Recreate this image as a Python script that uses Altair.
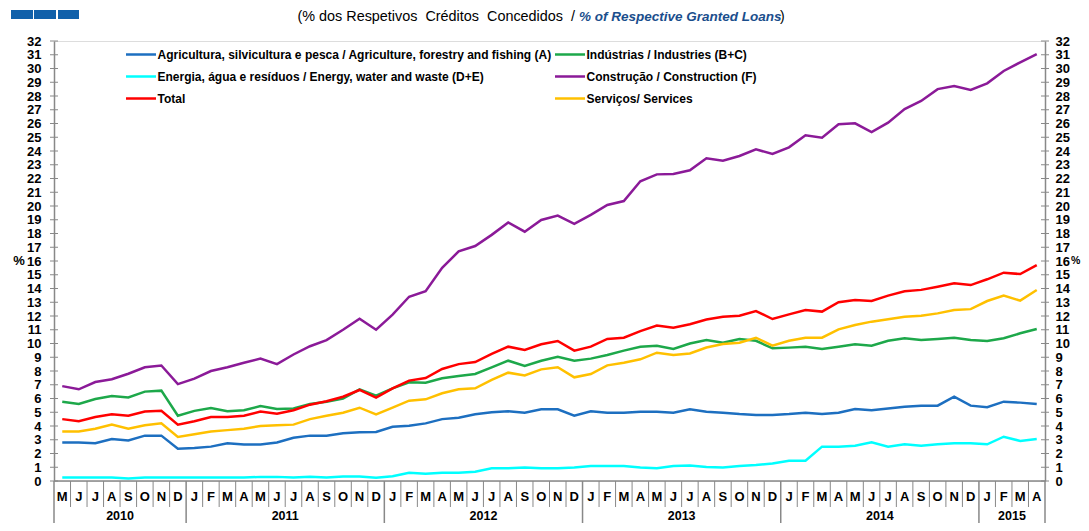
import altair as alt
import pandas as pd

# ---------------- data ----------------
months_2010 = ["M", "J", "J", "A", "S", "O", "N", "D"]
months_full = ["J", "F", "M", "A", "M", "J", "J", "A", "S", "O", "N", "D"]
months_2015 = ["J", "F", "M", "A"]
years = ["2010", "2011", "2012", "2013", "2014", "2015"]
year_months = [months_2010, months_full, months_full, months_full, months_full, months_2015]

names = [
    "Agricultura, silvicultura e pesca / Agriculture, forestry and fishing (A)",
    "Indústrias / Industries (B+C)",
    "Energia, água e resíduos / Energy, water and waste (D+E)",
    "Construção / Construction  (F)",
    "Total",
    "Serviços/ Services",
]
colors = ["#1D6FC0", "#1DA84A", "#00FFFF", "#8B1A98", "#FF0000", "#FFC000"]

agri = [2.8, 2.8, 2.75, 3.05, 2.95, 3.3, 3.3, 2.35, 2.4, 2.5, 2.75, 2.65, 2.65, 2.8, 3.15, 3.3, 3.3, 3.47, 3.54,
        3.56, 3.95, 4.02, 4.19, 4.5, 4.6, 4.85, 5.0, 5.07, 4.97, 5.21, 5.21, 4.75, 5.07, 4.97, 4.97, 5.04, 5.04, 4.97, 5.21, 5.04,
        4.97, 4.87, 4.8, 4.8, 4.87, 4.97, 4.87, 4.97, 5.24, 5.14, 5.28, 5.4, 5.48, 5.48, 6.13, 5.48, 5.36, 5.77, 5.7, 5.6]
industries = [5.77, 5.6, 5.96, 6.18, 6.08, 6.5, 6.57, 4.75, 5.1, 5.3, 5.07, 5.14, 5.45, 5.24, 5.28, 5.6, 5.77, 6.0, 6.67,
              6.2, 6.74, 7.18, 7.15, 7.47, 7.64, 7.78, 8.27, 8.75, 8.36, 8.75, 9.04, 8.75, 8.9, 9.16, 9.48, 9.77, 9.84, 9.6, 10.0, 10.25,
              10.06, 10.33, 10.2, 9.65, 9.7, 9.77, 9.6, 9.77, 9.94, 9.84, 10.2, 10.38, 10.25, 10.33, 10.42, 10.25, 10.18, 10.38, 10.74, 11.05]
energy = [0.25, 0.25, 0.25, 0.25, 0.18, 0.25, 0.25, 0.25, 0.25, 0.25, 0.25, 0.25, 0.3, 0.3, 0.25, 0.3, 0.25, 0.32, 0.32,
          0.24, 0.34, 0.6, 0.53, 0.6, 0.6, 0.68, 0.92, 0.92, 0.99, 0.92, 0.92, 0.99, 1.09, 1.09, 1.09, 0.99, 0.92, 1.09, 1.12, 1.02,
          0.99, 1.09, 1.16, 1.28, 1.48, 1.48, 2.5, 2.5, 2.57, 2.81, 2.5, 2.67, 2.57, 2.67, 2.74, 2.74, 2.67, 3.22, 2.91, 3.05]
construction = [6.9, 6.67, 7.2, 7.4, 7.8, 8.27, 8.4, 7.05, 7.45, 8.0, 8.27, 8.6, 8.9, 8.5, 9.2, 9.8, 10.25, 11.0, 11.8,
                11.0, 12.1, 13.4, 13.8, 15.5, 16.7, 17.09, 17.9, 18.8, 18.13, 18.98, 19.3, 18.7, 19.35, 20.07, 20.36, 21.8, 22.3, 22.33,
                22.6, 23.47, 23.3, 23.64, 24.12, 23.78, 24.27, 25.14, 24.97, 25.94, 26.01, 25.38, 26.06, 27.05, 27.64, 28.5, 28.73, 28.44, 28.92, 29.82, 30.45, 31.05]
total = [4.5, 4.35, 4.65, 4.85, 4.75, 5.05, 5.1, 4.1, 4.35, 4.65, 4.65, 4.75, 5.05, 4.9, 5.15, 5.55, 5.8, 6.13, 6.62,
         6.06, 6.74, 7.3, 7.49, 8.15, 8.5, 8.65, 9.24, 9.77, 9.53, 9.94, 10.18, 9.48, 9.77, 10.33, 10.42, 10.9, 11.3, 11.15, 11.4, 11.74,
         11.95, 12.02, 12.36, 11.78, 12.12, 12.44, 12.32, 13.0, 13.16, 13.1, 13.48, 13.8, 13.9, 14.13, 14.38, 14.25, 14.67, 15.15, 15.05, 15.7]
services = [3.6, 3.6, 3.8, 4.1, 3.8, 4.05, 4.2, 3.2, 3.4, 3.6, 3.7, 3.8, 4.0, 4.05, 4.1, 4.5, 4.75, 4.97, 5.33,
            4.85, 5.33, 5.84, 5.94, 6.38, 6.67, 6.74, 7.35, 7.88, 7.68, 8.12, 8.27, 7.54, 7.78, 8.41, 8.6, 8.85, 9.33, 9.16, 9.28, 9.71,
            9.96, 10.06, 10.42, 9.84, 10.2, 10.42, 10.42, 11.03, 11.35, 11.59, 11.76, 11.95, 12.02, 12.19, 12.44, 12.5, 13.09, 13.48, 13.12, 13.89]

y_ticks = list(range(0, 33))

subtitle_pt = "(% dos Respetivos\u00a0\u00a0Créditos\u00a0\u00a0Concedidos\u00a0\u00a0/"
subtitle_en = "% of Respective Granted Loans"

# ---------------- tables ----------------
month_letters = [m for ml in year_months for m in ml]
n = len(month_letters)
series_values = [agri, industries, energy, construction, total, services]
draw_order = [0, 2, 1, 5, 3, 4]  # red drawn last
rows = []
for k in draw_order:
    for i, v in enumerate(series_values[k]):
        rows.append({"idx": i, "value": v, "series": names[k], "o": draw_order.index(k)})
df = pd.DataFrame(rows)

# legend fills column by column: col 1 = A, D+E, Total ; col 2 = B+C, F, Services
legend_order = [0, 2, 4, 1, 3, 5]
leg_domain = [names[k] for k in legend_order]
leg_range = [colors[k] for k in legend_order]

df_months = pd.DataFrame({"idx": list(range(n)), "m": month_letters})
starts = [0]
for ml in year_months:
    starts.append(starts[-1] + len(ml))
df_years = pd.DataFrame({"c": [(starts[j] + starts[j + 1] - 1) / 2 for j in range(len(years))], "y": years})
df_ysep = pd.DataFrame({"p": [s - 0.5 for s in starts]})
df_msep = pd.DataFrame({"p": [i + 0.5 for i in range(n - 1) if (i + 1) not in starts]})
df_ticks = pd.DataFrame({"v": y_ticks})

W, H = 991, 440
FONT = "Liberation Sans"
GRAY = "#888888"
xs = alt.Scale(domain=[-0.5, n - 0.5], nice=False, zero=False)
ys = alt.Scale(domain=[0, 32], nice=False, zero=False)

lines = alt.Chart(df).mark_line(strokeWidth=2.5).encode(
    x=alt.X("idx:Q", scale=xs, axis=None),
    y=alt.Y("value:Q", scale=ys, axis=alt.Axis(values=y_ticks, ticks=False, domainColor=GRAY, domainWidth=1.5,
                                                labelFont=FONT, labelFontSize=13, labelFontWeight="bold",
                                                labelColor="black", labelPadding=13, grid=False, title=None,
                                                labelOverlap=False, labelFlush=False)),
    color=alt.Color("series:N", scale=alt.Scale(domain=leg_domain, range=leg_range),
                    legend=alt.Legend(orient="none", legendX=78, legendY=4.5, columns=2, title=None,
                                      symbolType="M-2,0H2", symbolSize=225, symbolStrokeWidth=2.5,
                                      labelOffset=7.5, rowPadding=7, columnPadding=-2, labelLimit=700,
                                      labelFont=FONT, labelFontSize=12, labelFontWeight="bold",
                                      labelColor="black", padding=0)),
    order=alt.Order("o:Q"),
)

ticks_left = alt.Chart(df_ticks).mark_rule(color=GRAY, strokeWidth=1).encode(
    y=alt.Y("v:Q", scale=ys, axis=None), x=alt.value(-4), x2=alt.value(4))
ticks_right = alt.Chart(df_ticks).mark_rule(color=GRAY, strokeWidth=1).encode(
    y=alt.Y("v:Q", scale=ys, axis=alt.Axis(orient="right", values=y_ticks, ticks=False, domainColor=GRAY,
                                           domainWidth=1.5, labelFont=FONT, labelFontSize=13,
                                           labelFontWeight="bold", labelColor="black", labelPadding=10,
                                           grid=False, title=None, labelOverlap=False, labelFlush=False)),
    x=alt.value(W - 4), x2=alt.value(W + 4))

base_line = alt.Chart(df_ticks.head(1)).mark_rule(color=GRAY, strokeWidth=1.5).encode(
    x=alt.value(0), x2=alt.value(W), y=alt.value(H))

msep = alt.Chart(df_msep).mark_rule(color=GRAY, strokeWidth=1).encode(
    x=alt.X("p:Q", scale=xs, axis=None), y=alt.value(H), y2=alt.value(H + 26))
ysep = alt.Chart(df_ysep).mark_rule(color=GRAY, strokeWidth=1.5).encode(
    x=alt.X("p:Q", scale=xs, axis=None), y=alt.value(H), y2=alt.value(H + 42))

mlabels = alt.Chart(df_months).mark_text(font=FONT, fontSize=13, fontWeight="bold", baseline="middle",
                                          color="black").encode(
    x=alt.X("idx:Q", scale=xs, axis=None), y=alt.value(H + 16), text="m:N")
ylabels = alt.Chart(df_years).mark_text(font=FONT, fontSize=12.5, fontWeight="bold", baseline="middle",
                                        color="black").encode(
    x=alt.X("c:Q", scale=xs, axis=None), y=alt.value(H + 35), text="y:N")

one = pd.DataFrame({"a": [0]})
pct_left = alt.Chart(one).mark_text(text="%", font=FONT, fontSize=13, fontWeight="bold", baseline="middle",
                                    align="center").encode(x=alt.value(-35), y=alt.value(H / 2))
pct_right = alt.Chart(one).mark_text(text="%", font=FONT, fontSize=10.5, fontWeight="bold", baseline="middle",
                                     align="left").encode(x=alt.value(1071 - 54), y=alt.value(H / 2))

sub1 = alt.Chart(one).mark_text(text=subtitle_pt, font=FONT, fontSize=14.4, align="right",
                                baseline="middle", color="black").encode(x=alt.value(575 - 54), y=alt.value(-24))
sub2 = alt.Chart(one).mark_text(text=subtitle_en, font=FONT, fontSize=13.5, fontWeight="bold", fontStyle="italic",
                                align="left", baseline="middle", color="#1A4E8C").encode(x=alt.value(579 - 54), y=alt.value(-24))
sub3 = alt.Chart(one).mark_text(text=")", font=FONT, fontSize=14, align="left",
                                baseline="middle", color="black").encode(x=alt.value(780 - 54), y=alt.value(-24))

sq = pd.DataFrame({"a": [0]})
squares = alt.layer(*[
    alt.Chart(sq).mark_rect(color="#1060AA").encode(x=alt.value(x0), x2=alt.value(x1), y=alt.value(-31), y2=alt.value(-22))
    for x0, x1 in [(-43, -21), (-20, 2), (4, 25)]
])

chart = alt.layer(
    squares, sub1, sub2, sub3, base_line, msep, ysep, mlabels, ylabels, pct_left, pct_right,
    ticks_left, ticks_right, lines,
).resolve_scale(y="independent").properties(
    width=W, height=H,
    autosize=alt.AutoSizeParams(type="none"),
    padding={"left": 46, "top": 33, "right": 36, "bottom": 42},
).configure_view(stroke=None).configure(background="white")

chart.save("out.html", embed_options={"renderer": "svg", "actions": False})
